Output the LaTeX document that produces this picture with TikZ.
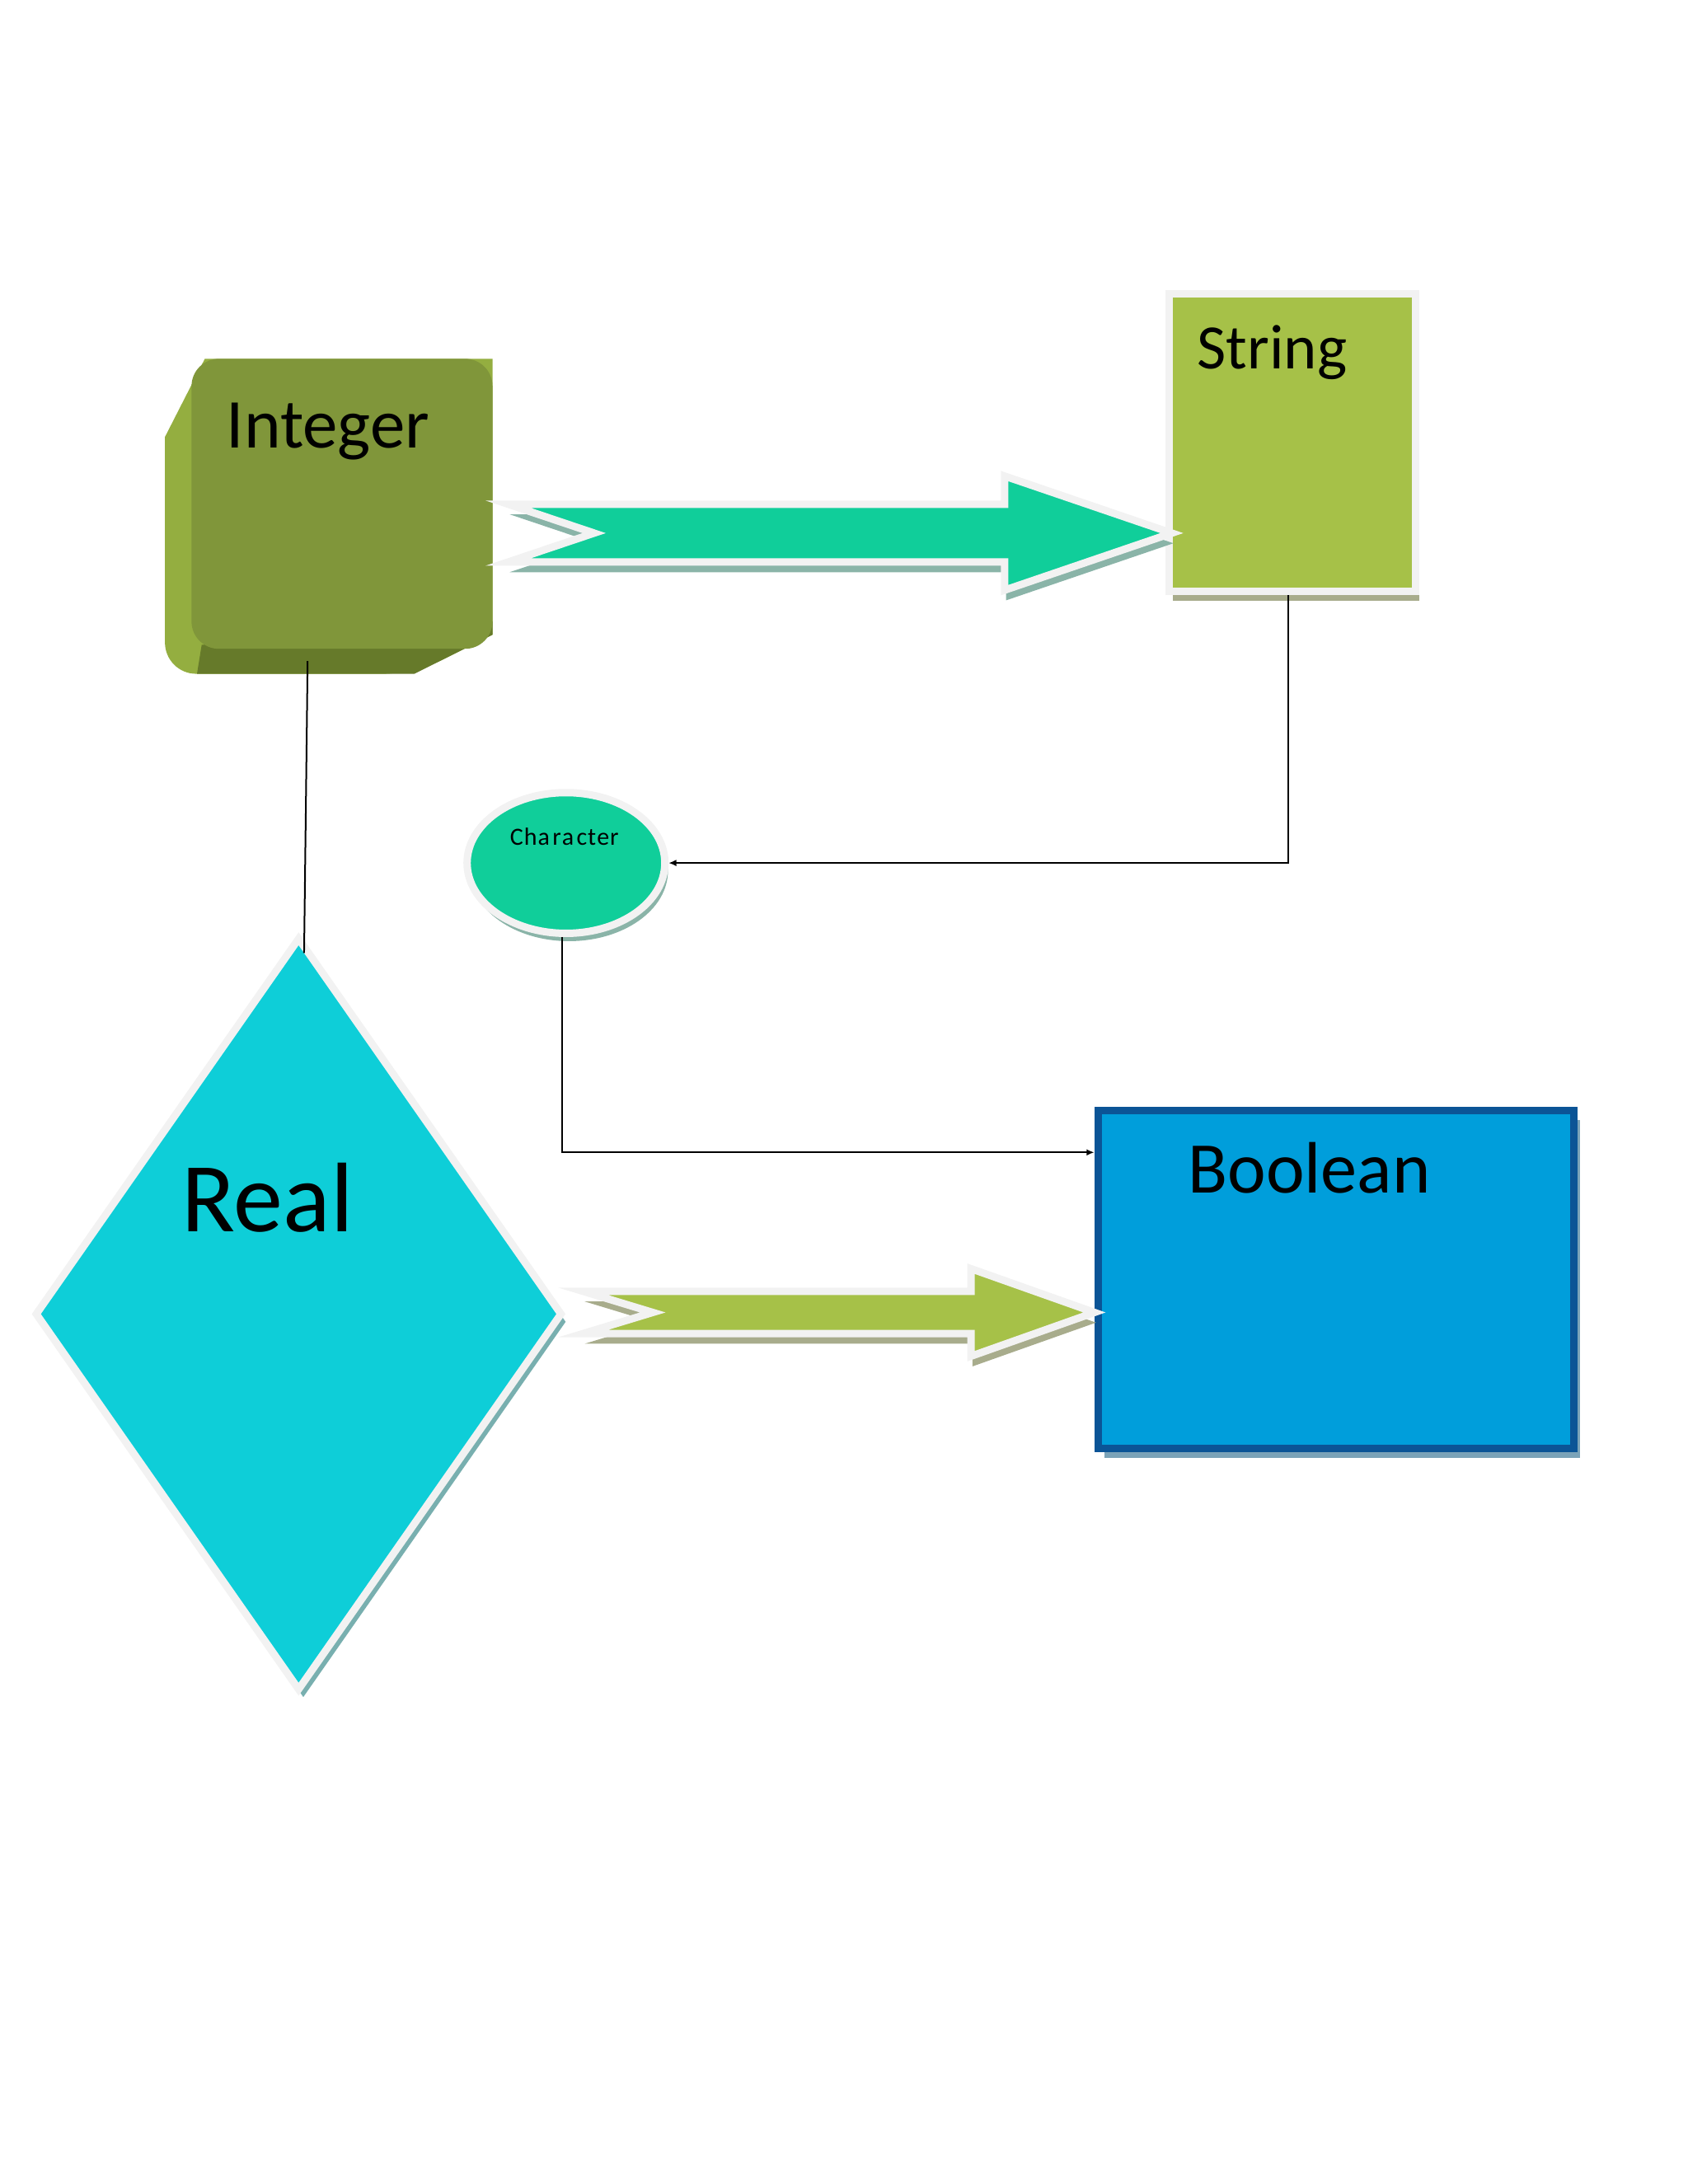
\documentclass[tikz,border=0pt]{standalone}
\usepackage{fontspec}
\setmainfont{Carlito}
\usetikzlibrary{shapes.geometric, arrows.meta, calc, shadows}
\definecolor{cInt}{RGB}{128,150,58}
\definecolor{cIntSide}{RGB}{148,174,64}
\definecolor{cIntBot}{RGB}{102,122,42}
\definecolor{cStr}{RGB}{166,193,72}
\definecolor{cTeal}{RGB}{16,206,154}
\definecolor{cCyan}{RGB}{14,206,216}
\definecolor{cBool}{RGB}{0,158,219}
\definecolor{cBoolEdge}{RGB}{11,84,150}
\definecolor{cRim}{RGB}{242,242,242}
\definecolor{cShTeal}{RGB}{138,180,168}
\definecolor{cShOlive}{RGB}{168,172,140}
\definecolor{cShCyan}{RGB}{120,175,175}
\definecolor{cShBlue}{RGB}{123,163,184}

\tikzset{
  rim/.style={draw=cRim, line width=2.7pt},
  wire/.style={line width=0.6pt, black},
  tip/.style={-{Latex[length=2.8pt,width=2.4pt]}},
  lbl/.style={inner sep=0pt, anchor=base west},
}

\begin{document}
\begin{tikzpicture}
    \useasboundingbox (0,0) rectangle (21.59,-27.94);

    % --- Integer (extruded block) ---
    \fill[cIntSide] (2.62,-4.59) -- (2.11,-5.59) [rounded corners=0.4cm] -- (2.11,-8.62)
        -- (5.30,-8.62) [sharp corners] -- (6.30,-8.12) -- (6.30,-4.59) -- cycle;
    \fill[cIntBot] (2.58,-8.25) -- (2.52,-8.62) -- (5.30,-8.62)
        -- (6.30,-8.12) -- (6.30,-7.95) -- cycle;
    \node[rectangle, fill=cInt, rounded corners=0.35cm, inner sep=0,
          minimum width=3.85cm, minimum height=3.71cm] (int) at (4.375,-6.445) {};
    \node[lbl, font=\fontsize{25.5}{30}\selectfont] (inttxt) at (2.89,-5.73) {Integer};

    % --- String ---
    \node[rectangle, rim, fill=cStr, inner sep=0, minimum width=3.15cm, minimum height=3.81cm,
          drop shadow={shadow xshift=0.05cm, shadow yshift=-0.12cm, opacity=1, fill=cShOlive}] (str) at (16.53,-5.66) {};
    \node[lbl, font=\fontsize{23}{27}\selectfont] (strtxt) at (15.31,-4.72) {String};

    % --- Character ---
    \node[ellipse, rim, fill=cTeal, inner sep=0, minimum width=2.53cm, minimum height=1.80cm,
          drop shadow={shadow xshift=0.04cm, shadow yshift=-0.1cm, opacity=1, fill=cShTeal}] (chr) at (7.24,-11.04) {};
    \node[inner sep=0, anchor=base, font=\fontsize{9}{11}\selectfont] (chrtxt) at (7.22,-10.81) {C\kern.3pt h\kern.3pt a\kern1pt r\kern.3pt a\kern1pt c\kern.3pt t\kern.3pt e\kern.3pt r};

    % --- Real ---
    \node[diamond, rim, fill=cCyan, inner sep=0, minimum width=6.75cm, minimum height=9.64cm,
          drop shadow={shadow xshift=0.06cm, shadow yshift=-0.1cm, opacity=1, fill=cShCyan}] (real) at (3.82,-16.81) {};
    \node[lbl, font=\fontsize{36}{42}\selectfont] (realtxt) at (2.32,-15.76) {Real};

    % --- Boolean ---
    \node[rectangle, draw=cBoolEdge, line width=2.7pt, fill=cBool, inner sep=0,
          minimum width=6.09cm, minimum height=4.32cm,
          drop shadow={shadow xshift=0.08cm, shadow yshift=-0.12cm, opacity=1, fill=cShBlue}] (bool) at (17.09,-16.37) {};
    \node[lbl, font=\fontsize{26.5}{31}\selectfont] (booltxt) at (15.19,-15.26) {Boolean};

    % --- Block arrows ---
    % Integer to String
    \begin{scope}[shift={(6.50,-6.82)}]
        \path[rim, fill=cTeal, drop shadow={shadow xshift=0.02cm, shadow yshift=-0.13cm, opacity=1, fill=cShTeal}]
            (0,0.37) -- (6.35,0.37) -- (6.35,0.73) -- (8.49,0) -- (6.35,-0.73)
            -- (6.35,-0.37) -- (0,-0.37) -- (1.10,0) -- cycle;
    \end{scope}
    % Real to Boolean
    \begin{scope}[shift={(7.46,-16.79)}]
        \path[rim, fill=cStr, drop shadow={shadow xshift=0.02cm, shadow yshift=-0.13cm, opacity=1, fill=cShOlive}]
            (0,0.27) -- (4.96,0.27) -- (4.96,0.56) -- (6.54,0) -- (4.96,-0.56)
            -- (4.96,-0.27) -- (0,-0.27) -- (0.89,0) -- cycle;
    \end{scope}

    % --- Connectors ---
    \draw[wire] ([xshift=-0.44cm, yshift=-0.15cm]int.south) -- ([xshift=0.07cm, yshift=-0.25cm]real.north);
    \draw[wire, tip] ([xshift=-0.05cm]str.south) |- (chr.east);
    \draw[wire, tip] ([xshift=-0.05cm]chr.south) |- ([yshift=-0.58cm]bool.north west);

\end{tikzpicture}
\end{document}
